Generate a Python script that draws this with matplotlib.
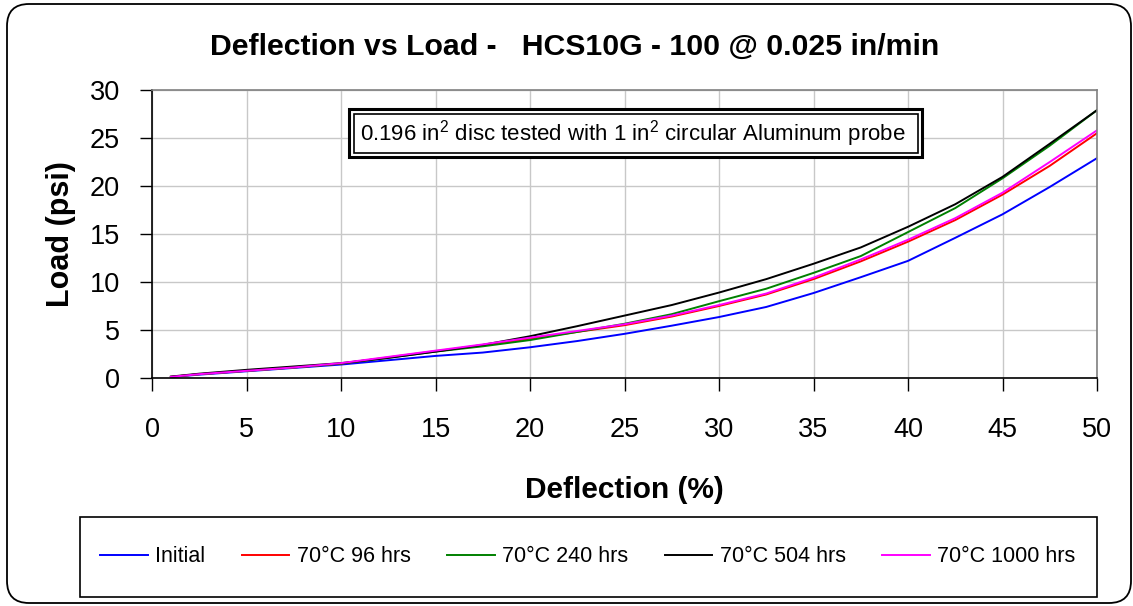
import matplotlib
matplotlib.use("Agg")
import matplotlib.pyplot as plt
from matplotlib.patches import Rectangle, FancyBboxPatch
from matplotlib.transforms import IdentityTransform

plt.rcParams['font.family'] = ['Liberation Sans', 'DejaVu Sans']
plt.rcParams['mathtext.fontset'] = 'custom'
plt.rcParams['mathtext.rm'] = 'Liberation Sans'
plt.rcParams['mathtext.it'] = 'Liberation Sans'

deflection = [1, 2.5, 5, 7.5, 10, 12.5, 15, 17.5, 20, 22.5, 25, 27.5, 30,
              32.5, 35, 37.5, 40, 42.5, 45, 47.5, 50]
initial = [0.1, 0.35, 0.7, 1.05, 1.4, 1.85, 2.3, 2.65, 3.2, 3.85, 4.6, 5.45,
           6.35, 7.4, 8.85, 10.5, 12.2, 14.6, 17.05, 19.9, 22.9]
h96 = [0.12, 0.4, 0.75, 1.1, 1.5, 2.15, 2.8, 3.4, 4.1, 4.8, 5.5, 6.4, 7.5,
       8.7, 10.3, 12.15, 14.2, 16.45, 19.1, 22.1, 25.5]
h240 = [0.12, 0.4, 0.75, 1.1, 1.5, 2.1, 2.75, 3.3, 3.95, 4.8, 5.65, 6.65, 8.0,
        9.3, 10.95, 12.7, 15.2, 17.7, 20.8, 24.2, 27.9]
h504 = [0.15, 0.45, 0.85, 1.2, 1.55, 2.1, 2.75, 3.45, 4.35, 5.4, 6.5, 7.6, 8.9,
        10.3, 11.9, 13.6, 15.75, 18.1, 20.95, 24.4, 27.9]
h1000 = [0.12, 0.4, 0.75, 1.1, 1.55, 2.2, 2.85, 3.5, 4.2, 4.9, 5.6, 6.5, 7.6,
         8.8, 10.45, 12.35, 14.4, 16.65, 19.3, 22.5, 25.8]

series_labels = ["Initial", "70°C 96 hrs", "70°C 240 hrs", "70°C 504 hrs", "70°C 1000 hrs"]
series_values = [initial, h96, h240, h504, h1000]
series_colors = ["#0000ff", "#ff0000", "#008000", "#000000", "#ff00ff"]

xticks = [0, 5, 10, 15, 20, 25, 30, 35, 40, 45, 50]
yticks = [0, 5, 10, 15, 20, 25, 30]

W, H = 1133, 606
fig = plt.figure(figsize=(W / 100, H / 100), dpi=100)
fig.patch.set_facecolor('white')

# outer rounded border
fig.patches.append(FancyBboxPatch((7, H - 603), 1124, 599,
                                  boxstyle="round,pad=0,rounding_size=22",
                                  transform=IdentityTransform(), fill=False,
                                  edgecolor='black', linewidth=1.3))

ax = fig.add_axes([152 / W, 1 - 378 / H, (1097 - 152) / W, (378 - 90) / H])
lines = []
for lab, vals, col in zip(series_labels, series_values, series_colors):
    ln, = ax.plot(deflection, vals, color=col, linewidth=1.4, label=lab)
    lines.append(ln)

ax.set_xlim(0, 50)
ax.set_ylim(0, 30)
ax.set_xticks(xticks)
ax.set_yticks(yticks)
ax.grid(True, color='#c8c8c8', linewidth=1.0)
ax.set_axisbelow(True)
ax.tick_params(axis='both', direction='out', length=9, width=1.0,
               labelsize=19.5, colors='black')
ax.tick_params(axis='y', pad=14)
ax.tick_params(axis='x', pad=19)
for s in ['left', 'bottom']:
    ax.spines[s].set_color('black')
    ax.spines[s].set_linewidth(1.2)
for s in ['top', 'right']:
    ax.spines[s].set_color('#808080')
    ax.spines[s].set_linewidth(1.2)

ax.set_xlabel("Deflection (%)", fontsize=21.5, fontweight='bold', labelpad=24)
ax.set_ylabel("Load (psi)", fontsize=22, fontweight='bold', labelpad=10)

fig.text(575 / W, 1 - 47 / H, "Deflection vs Load -   HCS10G - 100 @ 0.025 in/min",
         ha='center', va='center', fontsize=21.8, fontweight='bold')

# annotation box with double border
fig.patches.append(Rectangle((349, H - 157), 922 - 349, 157 - 109,
                             transform=IdentityTransform(), fill=True,
                             facecolor='white', edgecolor='black', linewidth=2.2, zorder=5))
fig.patches.append(Rectangle((353.5, H - 152.5), 918 - 353.5, 152.5 - 113.5,
                             transform=IdentityTransform(), fill=False,
                             edgecolor='black', linewidth=1.2, zorder=6))
fig.text(633 / W, 1 - 134 / H,
         r"0.196 in$^2$ disc tested with 1 in$^2$ circular Aluminum probe",
         ha='center', va='center', fontsize=16, zorder=7)

# legend box
fig.patches.append(Rectangle((80, H - 597), 1097 - 80, 597 - 517,
                             transform=IdentityTransform(), fill=False,
                             edgecolor='black', linewidth=1.2))
leg = fig.legend(handles=lines, loc='center', bbox_to_anchor=(588 / W, 1 - 557 / H),
                 ncol=5, frameon=False, fontsize=15.5, handlelength=2.2,
                 handletextpad=0.35, columnspacing=1.7)

fig.savefig("out.png", dpi=100)
